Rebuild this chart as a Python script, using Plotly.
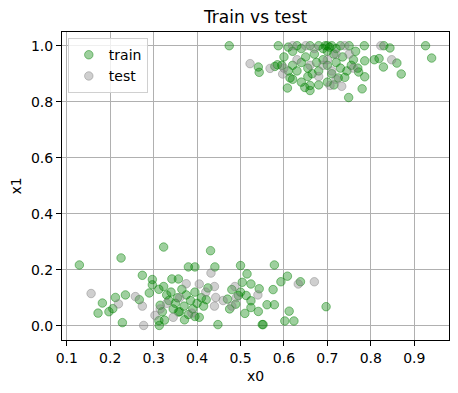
import plotly.graph_objects as go

train_x0 = [0.129,0.225,0.323,0.182,0.172,0.197,0.206,0.212,0.235,0.228,0.267,0.274,0.297,0.297,0.29,0.312,0.323,0.312,0.313,0.315,0.32,0.325,0.33,0.335,0.34,0.345,0.35,0.355,0.36,0.365,0.37,0.375,0.38,0.385,0.39,0.395,0.40,0.405,0.41,0.415,0.431,0.38,0.395,0.441,0.5,0.515,0.342,0.357,0.504,0.524,0.543,0.48,0.425,0.421,0.489,0.495,0.513,0.524,0.524,0.51,0.541,0.55,0.448,0.395,0.371,0.357,0.578,0.608,0.593,0.638,0.575,0.561,0.578,0.697,0.612,0.602,0.623,0.552,0.47,0.475,0.5,
            0.474,0.541,0.543,0.579,0.585,0.587,0.608,0.61,0.614,0.648,0.66,0.749,0.725,0.74,0.785,0.83,0.844,0.926,0.94,0.786,0.808,0.819,0.86,0.829,0.87,0.786,0.772,0.78,0.77,
            0.62,0.63,0.64,0.65,0.66,0.67,0.68,0.69,0.695,0.70,0.70,0.705,0.71,0.715,0.72,0.73,0.735,0.75,0.755,0.76,0.62,0.63,0.64,0.655,0.665,0.675,0.68,0.69,0.70,0.71,0.72,0.73,0.745,0.60,0.62,0.64,0.655,0.70,0.715,0.66,0.68,0.595,0.61,0.765]
train_x1 = [0.217,0.242,0.281,0.081,0.045,0.05,0.061,0.101,0.11,0.011,0.093,0.18,0.165,0.146,0.117,0.13,0.14,0.018,0.001,0.073,0.05,0.02,0.11,0.09,0.12,0.06,0.08,0.10,0.05,0.13,0.07,0.11,0.04,0.09,0.06,0.12,0.08,0.03,0.10,0.07,0.268,0.21,0.21,0.21,0.215,0.185,0.167,0.167,0.155,0.149,0.132,0.129,0.135,0.093,0.077,0.108,0.108,0.089,0.065,0.044,0.051,0.004,0.004,0.033,0.021,0.049,0.217,0.177,0.157,0.157,0.129,0.075,0.075,0.068,0.052,0.017,0.017,0.004,0.095,0.06,0.12,
            1.0,0.924,0.905,0.926,0.932,1.0,0.849,0.995,0.885,0.851,0.858,0.815,0.885,0.887,1.0,1.0,0.992,1.0,0.956,0.946,0.95,0.954,0.938,0.924,0.899,0.889,0.906,0.846,0.92,
            0.98,1.0,0.99,0.96,1.0,0.97,1.0,0.99,1.0,1.0,0.98,0.995,1.0,0.97,0.99,1.0,0.96,1.0,0.93,0.95,0.93,0.91,0.94,0.92,0.90,0.94,0.91,0.95,0.93,0.90,0.94,0.92,0.91,0.96,0.88,0.87,0.89,0.87,0.86,0.84,0.86,0.93,0.91,0.98]

test_x0 = [0.156,0.219,0.258,0.274,0.277,0.303,0.432,0.487,0.44,0.405,0.443,0.44,0.388,0.633,0.67,0.33,0.36,0.345,0.42,0.46,0.48,0.49,0.375,0.315,0.54,
           0.522,0.568,0.597,0.706,0.733,0.823,0.848,0.65,0.67,0.69,0.70,0.72,0.74,0.68,0.71,0.63,0.60,0.66,0.75,0.62,0.76,0.72]
test_x1 = [0.115,0.078,0.104,0.070,0.001,0.037,0.188,0.14,0.14,0.149,0.101,0.07,0.045,0.149,0.157,0.08,0.10,0.03,0.12,0.09,0.07,0.10,0.15,0.06,0.11,
           0.936,0.919,0.899,0.858,0.855,1.0,0.95,1.0,0.99,0.93,0.95,0.97,1.0,0.89,0.91,0.95,0.92,0.93,0.97,1.0,0.92,0.88]

x_ticks = [0.1,0.2,0.3,0.4,0.5,0.6,0.7,0.8,0.9]
y_ticks = [0.0,0.2,0.4,0.6,0.8,1.0]

font = "DejaVu Sans"
fig = go.Figure()
fig.add_trace(go.Scatter(x=train_x0, y=train_x1, mode="markers", name="train",
                         marker=dict(size=8.5, color="rgba(0,128,0,0.38)",
                                     line=dict(color="rgba(0,128,0,0.45)", width=1))))
fig.add_trace(go.Scatter(x=test_x0, y=test_x1, mode="markers", name="test",
                         marker=dict(size=8.5, color="rgba(128,128,128,0.38)",
                                     line=dict(color="rgba(128,128,128,0.45)", width=1))))

axis_common = dict(showgrid=True, gridcolor="#b0b0b0", gridwidth=0.8, zeroline=False,
                   showline=True, linecolor="black", linewidth=1, mirror=True,
                   ticks="outside", ticklen=5, tickcolor="black", automargin=False,
                   tickfont=dict(family=font, size=14, color="black"))
fig.update_xaxes(range=[0.089, 0.98], tickvals=x_ticks, tickformat=".1f",
                 title=dict(text="x0", font=dict(family=font, size=14, color="black"), standoff=6),
                 **axis_common)
fig.update_yaxes(range=[-0.051, 1.049], tickvals=y_ticks, tickformat=".1f",
                 title=dict(text="x1", font=dict(family=font, size=14, color="black"), standoff=8),
                 **axis_common)
fig.update_layout(
    width=450, height=385,
    margin=dict(l=54, r=9, t=24, b=53),
    paper_bgcolor="white", plot_bgcolor="white",
    title=dict(text="Train vs test", x=0.5, xref="paper", xanchor="center", y=0.977, yanchor="middle",
               font=dict(family=font, size=17, color="black")),
    legend=dict(x=0.015, y=0.98, xanchor="left", yanchor="top",
                bgcolor="rgba(255,255,255,0.8)", bordercolor="#d0d0d0", borderwidth=1,
                font=dict(family=font, size=14, color="black"), itemwidth=30),
    showlegend=True,
)
fig.write_html("out.html")
